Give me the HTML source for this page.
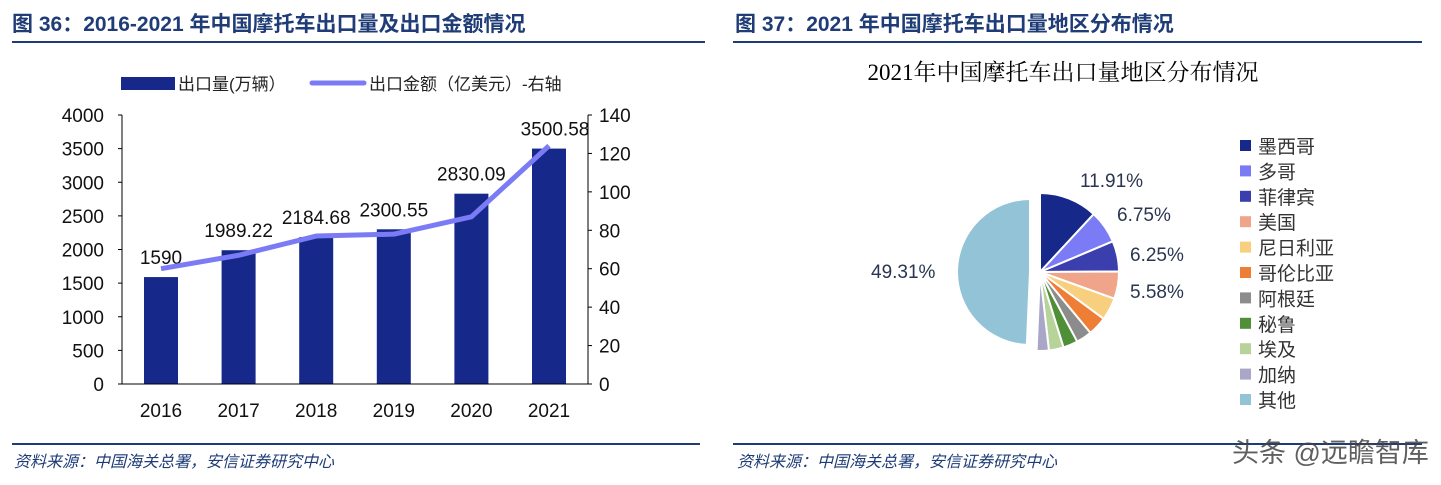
<!DOCTYPE html><html><head><meta charset="utf-8"><style>
body{margin:0;width:1441px;height:480px;background:#fff;overflow:hidden;font-family:"Liberation Sans","Noto Sans CJK SC",sans-serif}
</style></head><body>
<svg id="s" width="1441" height="480" xmlns="http://www.w3.org/2000/svg" font-family="Liberation Sans, Noto Sans CJK SC, sans-serif">
<text x="12" y="31" font-size="21" font-weight="bold" fill="#1f3c77">图 36：2016-2021 年中国摩托车出口量及出口金额情况</text>
<line x1="12" y1="42" x2="705" y2="42" stroke="#1f3c77" stroke-width="2"/>
<text x="735" y="31" font-size="21" font-weight="bold" fill="#1f3c77">图 37：2021 年中国摩托车出口量地区分布情况</text>
<line x1="733" y1="42" x2="1422" y2="42" stroke="#1f3c77" stroke-width="2"/>
<rect x="121" y="77" width="54" height="13" fill="#16288a"/>
<text x="178" y="90" font-size="17" fill="#222">出口量(万辆）</text>
<line x1="312" y1="83" x2="364" y2="83" stroke="#7b7cf5" stroke-width="5" stroke-linecap="round"/>
<text x="369" y="90" font-size="17" fill="#222">出口金额（亿美元）-右轴</text>
<g id="ax" font-size="19" fill="#111"></g>
<line x1="122" y1="115" x2="122" y2="384" stroke="#000"/>
<line x1="588" y1="115" x2="588" y2="384" stroke="#000"/>
<line x1="122" y1="384" x2="588" y2="384" stroke="#000"/>
<text x="1063" y="80" font-size="23" text-anchor="middle" fill="#000" font-family="Liberation Serif, Noto Serif CJK SC, serif">2021年中国摩托车出口量地区分布情况</text>
<g id="pie"></g>
<g id="leg" font-size="19" fill="#333"></g>
<g font-size="19" fill="#2a3550">
<text x="1080" y="187">11.91%</text><text x="1117" y="221">6.75%</text><text x="1130" y="261">6.25%</text><text x="1130" y="298">5.58%</text><text x="871" y="278">49.31%</text></g>
<line x1="12" y1="444" x2="700" y2="444" stroke="#1f3c77" stroke-width="2"/>
<line x1="733" y1="444" x2="1422" y2="444" stroke="#1f3c77" stroke-width="2"/>
<text x="14" y="467" font-size="16" font-style="italic" fill="#1f3c77">资料来源：中国海关总署，安信证券研究中心</text>
<text x="737" y="467" font-size="16" font-style="italic" fill="#1f3c77">资料来源：中国海关总署，安信证券研究中心</text>
<text x="1232" y="462" font-size="27" fill="#444" opacity="0.85">头条 @远瞻智库</text>
</svg>
<script>
var NS="http://www.w3.org/2000/svg";
function el(p,t,a,txt){var e=document.createElementNS(NS,t);for(var k in a)e.setAttribute(k,a[k]);if(txt!=null)e.textContent=txt;p.appendChild(e);return e;}
var ax=document.getElementById('ax');
for(var i=0;i<=8;i++){var y=384-i*269/8;el(ax,'text',{x:104,y:y+7,'text-anchor':'end'},i*500);el(ax,'line',{x1:118,x2:122,y1:y,y2:y,stroke:'#000'});}
for(var i=0;i<=7;i++){var y=384-i*269/7;el(ax,'text',{x:599,y:y+7},i*20);el(ax,'line',{x1:588,x2:592,y1:y,y2:y,stroke:'#000'});}
var yrs=[2016,2017,2018,2019,2020,2021],v=[1590,1989.22,2184.68,2300.55,2830.09,3500.58],lab=['1590','1989.22','2184.68','2300.55','2830.09','3500.58'],ln=[60,67,77,78,87,124];
var pts=[];
for(var i=0;i<6;i++){var cx=161+i*77.6,h=v[i]*269/4000;
el(ax,'rect',{x:cx-17,y:384-h,width:34,height:h,fill:'#16288a'});
el(ax,'text',{x:cx+(i==5?6:0),y:384-h-13,'text-anchor':'middle'},lab[i]);
el(ax,'text',{x:cx,y:417,'text-anchor':'middle'},yrs[i]);
pts.push(cx+','+(384-ln[i]*269/140));}
el(ax,'polyline',{points:pts.join(' '),fill:'none',stroke:'#7b7cf5','stroke-width':5,'stroke-linejoin':'round'});
var pie=document.getElementById('pie');
var d=[11.91,6.75,6.25,5.58,4.6,3.9,3.2,3.0,3.0,2.5,49.31],c=['#16288a','#7b7cf5','#3b3fae','#f0a58a','#f7cf7f','#ee7e36','#8c8c8c','#4e8f38','#b8d39a','#a9a6c8','#93c3d6'],n=['墨西哥','多哥','菲律宾','美国','尼日利亚','哥伦比亚','阿根廷','秘鲁','埃及','加纳','其他'];
var a=0;
for(var i=0;i<d.length;i++){var a0=a,a1=a+d[i]/100*2*Math.PI;a=a1;
var cx=1040,cy=272,R=79;if(i==10){cx=1030;R=73;}
var x0=cx+R*Math.sin(a0),y0=cy-R*Math.cos(a0),x1=cx+R*Math.sin(a1),y1=cy-R*Math.cos(a1);
el(pie,'path',{d:'M'+cx+','+cy+'L'+x0+','+y0+'A'+R+','+R+' 0 '+((a1-a0)>Math.PI?1:0)+' 1 '+x1+','+y1+'Z',fill:c[i],stroke:'#fff','stroke-width':2});}
var lg=document.getElementById('leg');
for(var i=0;i<11;i++){var y=146+i*25.4;el(lg,'rect',{x:1240,y:y-6,width:11,height:11,fill:c[i]});el(lg,'text',{x:1258,y:y+7},n[i]);}
</script></body></html>
